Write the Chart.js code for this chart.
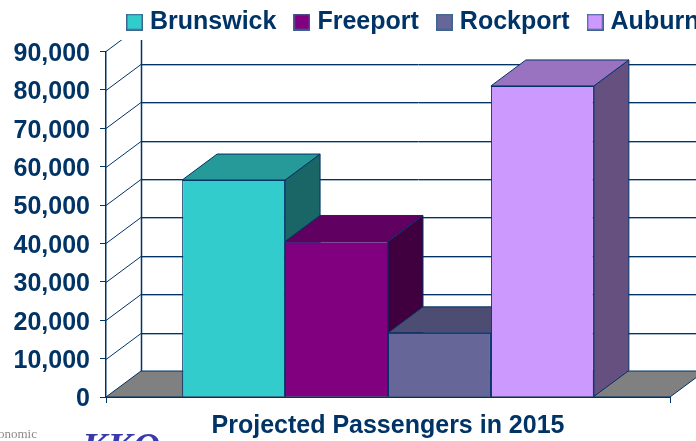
<!DOCTYPE html>
<html><head><meta charset="utf-8">
<style>html,body{margin:0;padding:0;background:#fff;overflow:hidden}canvas{display:block}</style>
<script src="https://cdn.jsdelivr.net/npm/chart.js@4"></script></head>
<body><canvas id="c" width="696" height="441"></canvas>
<script>
const categories = ["2015"];
const seriesNames = ["Brunswick", "Freeport", "Rockport", "Auburn"];
const brunswick = [56500];
const freeport = [40500];
const rockport = [16700];
const auburn = [81000];
const frontColors = ["#33CCCC", "#800080", "#666699", "#CC99FF"];
const topColors = ["#269999", "#600060", "#4D4D73", "#9973BF"];
const sideColors = ["#1A6666", "#400040", "#333350", "#665080"];
const navy = "#003366";
const depthX = 35, depthY = 26, wallTop = 40;
const fontFamily = "'Liberation Sans', Arial, sans-serif";

function legendSwatch(color) {
  const s = document.createElement("canvas");
  s.width = 17; s.height = 17;
  const g = s.getContext("2d");
  g.fillStyle = color; g.fillRect(0, 0, 17, 17);
  g.strokeStyle = "#3D6590"; g.lineWidth = 1.5; g.strokeRect(0.75, 0.75, 15.5, 15.5);
  return s;
}
const swatches = frontColors.map(legendSwatch);

function poly(ctx, pts, fill) {
  ctx.beginPath();
  pts.forEach((p, i) => i ? ctx.lineTo(p[0], p[1]) : ctx.moveTo(p[0], p[1]));
  ctx.closePath();
  if (fill) { ctx.fillStyle = fill; ctx.fill(); }
  ctx.stroke();
}

const threeD = {
  id: "threeD",
  beforeLayout(chart) {
    const l = chart.legend, fit = l.fit;
    l.fit = function () { fit.call(this); this.height = 51.4; };
  },
  afterLayout(chart) {
    const l = chart.legend, w = l.width;
    l.top = -13; l.bottom = 40;
    l.left = 109; l.right = l.left + w;
  },
  beforeDatasetsDraw(chart) {
    const ctx = chart.ctx, y = chart.scales.y, a = chart.chartArea;
    const base = y.getPixelForValue(0);
    ctx.save();
    ctx.lineWidth = 1;
    ctx.strokeStyle = navy;
    // side wall and back wall grid
    ctx.save();
    ctx.beginPath(); ctx.rect(0, wallTop, chart.width, chart.height); ctx.clip();
    y.ticks.forEach(t => {
      const py = Math.round(y.getPixelForValue(t.value)) + 0.5;
      if (t.value > 0) {
        ctx.strokeStyle = navy;
        ctx.beginPath(); ctx.moveTo(a.left, py); ctx.lineTo(a.left + depthX, py - depthY); ctx.lineTo(chart.width, py - depthY); ctx.stroke();
        ctx.strokeStyle = "#A3B6CA";
        ctx.beginPath(); ctx.moveTo(a.left + depthX, py - depthY + 1); ctx.lineTo(chart.width, py - depthY + 1); ctx.stroke();
      }
    });
    ctx.strokeStyle = navy;
    ctx.lineWidth = 1.5;
    ctx.beginPath(); ctx.moveTo(a.left + depthX + 0.5, wallTop); ctx.lineTo(a.left + depthX + 0.5, base - depthY); ctx.stroke();
    ctx.restore();
    // floor
    ctx.lineWidth = 1;
    poly(ctx, [[a.left, base], [a.left + depthX, base - depthY], [a.right + depthX, base - depthY], [a.right, base]], "#808080");
    // bar top and side faces, left to right
    chart.data.datasets.forEach((d, i) => {
      const b = chart.getDatasetMeta(i).data[0];
      const l = b.x - b.width / 2, r = b.x + b.width / 2, t = b.y, B = b.base;
      poly(ctx, [[r, B], [r + depthX, B - depthY], [r + depthX, t - depthY], [r, t]], sideColors[i]);
      poly(ctx, [[l, t], [l + depthX, t - depthY], [r + depthX, t - depthY], [r, t]], topColors[i]);
    });
    ctx.restore();
  },
  afterDraw(chart) {
    const ctx = chart.ctx;
    ctx.save();
    ctx.textAlign = "left"; ctx.textBaseline = "alphabetic";
    ctx.fillStyle = "#8A8A8A"; ctx.font = "13px 'Liberation Serif', serif";
    ctx.fillText("onomic", -2, 438);
    ctx.fillStyle = "#3A3AB0"; ctx.font = "italic bold 38px 'Liberation Serif', serif";
    ctx.fillText("KKO", 82, 459);
    ctx.restore();
  }
};

const values = [brunswick, freeport, rockport, auburn];
new Chart(document.getElementById("c"), {
  type: "bar",
  data: {
    labels: categories,
    datasets: seriesNames.map((n, i) => ({
      label: n, data: values[i],
      backgroundColor: frontColors[i], borderColor: navy, borderWidth: 1,
      categoryPercentage: 0.73, barPercentage: 1
    }))
  },
  plugins: [threeD],
  options: {
    responsive: false, animation: false,
    layout: { padding: { right: 26 } },
    plugins: {
      tooltip: { enabled: false },
      legend: {
        position: "top", align: "start",
        labels: {
          color: navy, padding: 22.5, boxWidth: 6,
          usePointStyle: true, pointStyleWidth: 6,
          font: { family: fontFamily, size: 25, weight: "bold" },
          generateLabels: c => c.data.datasets.map((d, i) => ({
            text: d.label, fontColor: navy, pointStyle: swatches[i], datasetIndex: i,
            lineWidth: 0, fillStyle: frontColors[i], strokeStyle: navy
          }))
        }
      }
    },
    scales: {
      x: {
        afterFit(s) { s.height = 44; },
        ticks: { display: false },
        border: { color: navy, width: 1 },
        grid: { drawOnChartArea: false, offset: true, tickLength: 6, color: navy },
        title: {
          display: true, text: "Projected Passengers in 2015", color: navy,
          font: { family: fontFamily, size: 25, weight: "bold" }, padding: { top: 9, bottom: 0 }
        }
      },
      y: {
        min: 0, max: 90000,
        afterFit(s) { s.width = 106; },
        ticks: {
          stepSize: 10000, color: navy, padding: 10, labelOffset: 2.5,
          font: { family: fontFamily, size: 25, weight: "bold" },
          callback: v => v.toLocaleString("en-US")
        },
        border: { color: navy, width: 1.5 },
        grid: { drawOnChartArea: false, tickLength: 6, color: navy }
      }
    }
  }
});
</script></body></html>
